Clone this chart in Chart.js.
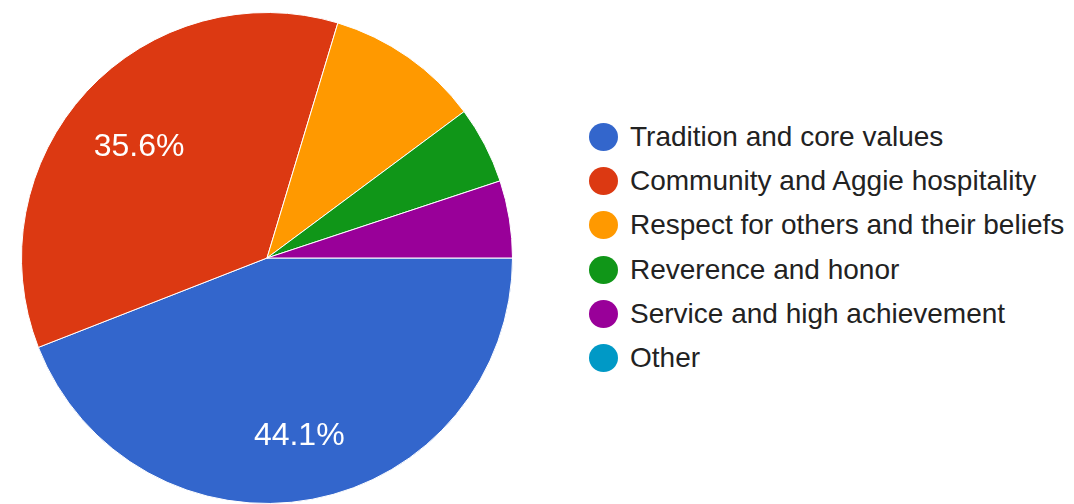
<!DOCTYPE html>
<html>
<head>
<meta charset="utf-8">
<script src="https://cdn.jsdelivr.net/npm/chart.js@4.4.1/dist/chart.umd.min.js"></script>
<style>
  body { margin: 0; background: #fff; }
  #wrap { position: relative; width: 1074px; height: 504px; overflow: hidden; }
  #pie { position: absolute; left: 0; top: 0; }
  #legend {
    position: absolute; left: 589px; top: 114.6px; margin: 0; padding: 0; list-style: none;
    font-family: "Liberation Sans", Arial, sans-serif; font-size: 28px; color: #222;
  }
  #legend li { display: flex; align-items: center; height: 44.3px; white-space: nowrap; }
  #legend .dot { width: 29px; height: 28px; border-radius: 50%; margin-right: 12px; flex: none; }
</style>
</head>
<body>
<div id="wrap">
  <canvas id="pie" width="534" height="504"></canvas>
  <ul id="legend"></ul>
</div>
<script>
const categories = [
  "Tradition and core values",
  "Community and Aggie hospitality",
  "Respect for others and their beliefs",
  "Reverence and honor",
  "Service and high achievement",
  "Other"
];
const responses = [26, 21, 6, 3, 3, 0];
const sliceColors = ["#3366cc", "#dc3912", "#ff9900", "#109618", "#990099", "#0099c6"];

// slices smaller than this share get no percentage text
const MIN_LABEL_SHARE = 0.15;

const sliceLabels = {
  id: "sliceLabels",
  afterDatasetsDraw(chart) {
    const ctx = chart.ctx;
    const meta = chart.getDatasetMeta(0);
    const values = chart.data.datasets[0].data;
    const total = values.reduce((a, b) => a + b, 0);
    ctx.save();
    ctx.font = '32px "Liberation Sans", Arial, sans-serif';
    ctx.fillStyle = "#fff";
    ctx.textAlign = "center";
    ctx.textBaseline = "middle";
    meta.data.forEach((arc, i) => {
      const share = values[i] / total;
      if (share < MIN_LABEL_SHARE) return;
      const p = arc.getProps(["x", "y", "startAngle", "endAngle", "outerRadius"], true);
      const mid = (p.startAngle + p.endAngle) / 2;
      const r = p.outerRadius * 0.709;
      // text sits a little below its anchor point
      ctx.fillText((share * 100).toFixed(1) + "%", p.x + Math.cos(mid) * r, p.y + Math.sin(mid) * r + 7);
    });
    ctx.restore();
  }
};

const chart = new Chart(document.getElementById("pie"), {
  type: "pie",
  data: {
    labels: categories,
    datasets: [{
      data: responses,
      backgroundColor: sliceColors,
      borderColor: "#fff",
      borderWidth: 1
    }]
  },
  options: {
    responsive: false,
    animation: false,
    rotation: 90,
    layout: { padding: { top: 12, bottom: 0, left: 0, right: 0 } },
    plugins: {
      legend: { display: false },
      tooltip: { enabled: false }
    }
  },
  plugins: [sliceLabels]
});

// html legend built from the chart's own data
const legendEl = document.getElementById("legend");
chart.data.labels.forEach((label, i) => {
  const li = document.createElement("li");
  const dot = document.createElement("span");
  dot.className = "dot";
  dot.style.background = chart.data.datasets[0].backgroundColor[i];
  li.appendChild(dot);
  li.appendChild(document.createTextNode(label));
  legendEl.appendChild(li);
});
</script>
</body>
</html>
